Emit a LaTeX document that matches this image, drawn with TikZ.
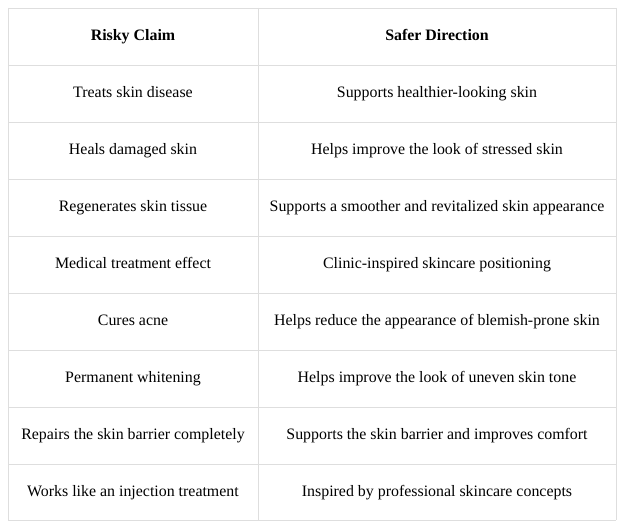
\documentclass[tikz,border=0pt]{standalone}
\usepackage{fontspec}
\setmainfont{Liberation Serif}
\tikzset{
  cell/.style={font=\fontsize{15.9}{18}\selectfont, anchor=center, text height=11pt, text depth=3pt},
  head/.style={cell, font=\fontsize{15.9}{18}\selectfont\bfseries},
  rule/.style={draw=black!13, line width=0.8pt}
}
\begin{document}
\begin{tikzpicture}[x=1pt,y=-1pt]
\useasboundingbox (0,0) rectangle (624,529);

%grid lines
\foreach \y in {8,65,122,179,236,293,350,407,464,520}
  \draw[rule] (8,\y) -- (616,\y);
\foreach \x in {8,258,616}
  \draw[rule] (\x,8) -- (\x,520);

%header
\node[head] (h1) at (133,36.5) {Risky Claim};
\node[head] (h2) at (437,36.5) {Safer Direction};

%rows
\foreach \risky/\safer [count=\i] in {
  Treats skin disease/Supports healthier-looking skin,
  Heals damaged skin/Helps improve the look of stressed skin,
  Regenerates skin tissue/Supports a smoother and revitalized skin appearance,
  Medical treatment effect/Clinic-inspired skincare positioning,
  Cures acne/Helps reduce the appearance of blemish-prone skin,
  Permanent whitening/Helps improve the look of uneven skin tone,
  Repairs the skin barrier completely/Supports the skin barrier and improves comfort,
  Works like an injection treatment/Inspired by professional skincare concepts}
{
  \node[cell] (r\i) at (133,36.5+57*\i) {\risky};
  \node[cell] (s\i) at (437,36.5+57*\i) {\safer};
}
\end{tikzpicture}
\end{document}
